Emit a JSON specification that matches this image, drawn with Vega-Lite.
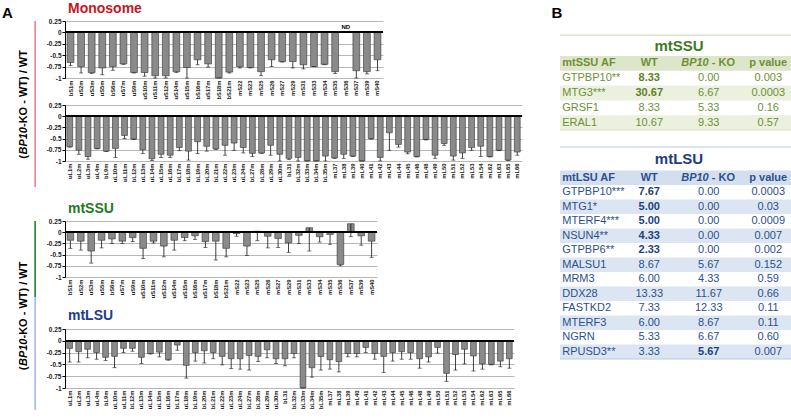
{
"$schema": "https://vega.github.io/schema/vega-lite/v6.json",
"padding": {"left": 2, "top": 2, "right": 0, "bottom": 0},
"config": {"view": {"stroke": null}, "font": "Liberation Sans"},
"datasets": {
"monoSSU": [
{"protein":"bS1m","value":-0.66,"low":-0.73},{"protein":"uS2m","value":-0.75,"low":-0.89},{"protein":"uS3m","value":-0.88,"low":-0.9},{"protein":"uS5m","value":-0.78,"low":-0.93},{"protein":"bS6m","value":-0.75,"low":-0.83},{"protein":"uS7m","value":-0.69,"low":-0.7},{"protein":"uS9m","value":-0.88,"low":-0.89},{"protein":"uS10m","value":-0.88,"low":-0.96},{"protein":"uS11m","value":-0.95,"low":-1.0},{"protein":"uS12m","value":-0.95,"low":-1.0},{"protein":"uS14m","value":-0.86,"low":-0.88},{"protein":"uS15m","value":-0.77,"low":-1.0},{"protein":"bS16m","value":-0.6,"low":-0.71},{"protein":"uS17m","value":-0.69,"low":-0.76},{"protein":"bS18m","value":-1.0,"low":-1.0},{"protein":"bS21m","value":-0.87,"low":-0.89},{"protein":"mS22","value":-0.75,"low":-0.78},{"protein":"mS23","value":-0.77,"low":-0.78},{"protein":"mS25","value":-0.86,"low":-0.95},{"protein":"mS26","value":-0.6,"low":-0.75},{"protein":"mS27","value":-0.64,"low":-0.65},{"protein":"mS29","value":-0.64,"low":-0.78},{"protein":"mS31","value":-0.71,"low":-0.8},{"protein":"mS33","value":-0.75,"low":-0.75},{"protein":"mS34","value":-0.7,"low":-0.71},{"protein":"mS35","value":-0.86,"low":-0.9},{"protein":"mS36","value":null,"low":null},{"protein":"mS37","value":-0.84,"low":-1.0},{"protein":"mS39","value":-0.86,"low":-0.91},{"protein":"mS40","value":-0.6,"low":-0.84}
],
"monoLSU": [
{"protein":"uL1m","value":-0.68,"low":-0.69},{"protein":"uL2m","value":-0.76,"low":-0.85},{"protein":"uL3m","value":-0.9,"low":-0.96},{"protein":"uL4m","value":-0.72,"low":-0.73},{"protein":"bL9m","value":-0.78,"low":-0.79},{"protein":"uL10m","value":-0.72,"low":-0.92},{"protein":"uL11m","value":-0.43,"low":-0.5},{"protein":"bL12m","value":-0.51,"low":-0.52},{"protein":"uL13m","value":-0.75,"low":-0.83},{"protein":"uL14m","value":-0.95,"low":-0.99},{"protein":"uL15m","value":-0.85,"low":-0.92},{"protein":"uL16m","value":-0.87,"low":-0.92},{"protein":"bL17m","value":-0.7,"low":-0.77},{"protein":"uL18m","value":-0.78,"low":-0.98},{"protein":"bL19m","value":-0.57,"low":-0.83},{"protein":"bL20m","value":-0.67,"low":-0.78},{"protein":"bL21m","value":-0.73,"low":-0.74},{"protein":"uL22m","value":-0.65,"low":-0.87},{"protein":"uL23m","value":-0.6,"low":-0.76},{"protein":"uL24m","value":-0.7,"low":-0.82},{"protein":"bL27m","value":-0.83,"low":-0.9},{"protein":"bL28m","value":-0.82,"low":-0.83},{"protein":"uL29m","value":-0.65,"low":-0.87},{"protein":"uL30m","value":-0.85,"low":-1.0},{"protein":"bL31","value":-0.94,"low":-0.97},{"protein":"bL32m","value":-0.92,"low":-1.0},{"protein":"bL33m","value":-1.0,"low":-1.0},{"protein":"bL34m","value":-1.0,"low":-1.0},{"protein":"bL35m","value":-0.89,"low":-1.0},{"protein":"mL37","value":-0.93,"low":-0.94},{"protein":"mL38","value":-0.85,"low":-0.94},{"protein":"mL39","value":-0.89,"low":-0.9},{"protein":"mL40","value":-1.0,"low":-1.0},{"protein":"mL41","value":-0.5,"low":-0.51},{"protein":"mL42","value":-0.92,"low":-1.0},{"protein":"mL43","value":-0.37,"low":-0.76},{"protein":"mL44","value":-0.63,"low":-0.69},{"protein":"mL45","value":-0.8,"low":-0.84},{"protein":"mL46","value":-0.9,"low":-0.91},{"protein":"mL48","value":-0.52,"low":-0.53},{"protein":"mL49","value":-0.87,"low":-0.94},{"protein":"mL50","value":-0.61,"low":-0.65},{"protein":"mL51","value":-0.89,"low":-0.98},{"protein":"mL52","value":-0.82,"low":-0.94},{"protein":"mL53","value":-0.7,"low":-0.76},{"protein":"mL54","value":-0.67,"low":-0.9},{"protein":"mL62","value":-0.9,"low":-0.91},{"protein":"mL63","value":-0.76,"low":-0.77},{"protein":"mL65","value":-0.98,"low":-0.99},{"protein":"mL66","value":-0.8,"low":-0.87}
],
"ssu": [
{"protein":"bS1m","value":-0.18,"low":-0.36},{"protein":"uS2m","value":-0.2,"low":-0.4},{"protein":"uS3m","value":-0.42,"low":-0.69},{"protein":"uS5m","value":-0.18,"low":-0.35},{"protein":"bS6m","value":-0.15,"low":-0.25},{"protein":"uS7m","value":-0.2,"low":-0.25},{"protein":"uS9m","value":-0.12,"low":-0.21},{"protein":"uS10m","value":-0.36,"low":-0.59},{"protein":"uS11m","value":-0.2,"low":-0.24},{"protein":"uS12m","value":-0.31,"low":-0.55},{"protein":"uS14m","value":-0.18,"low":-0.4},{"protein":"uS15m","value":-0.12,"low":-0.19},{"protein":"bS16m","value":-0.08,"low":-0.16},{"protein":"uS17m","value":-0.21,"low":-0.34},{"protein":"bS18m","value":-0.2,"low":-0.62},{"protein":"bS21m","value":-0.36,"low":-0.55},{"protein":"mS22","value":-0.03,"low":-0.09},{"protein":"mS23","value":-0.31,"low":-0.52},{"protein":"mS25","value":0.02,"low":-0.19},{"protein":"mS26","value":-0.09,"low":-0.35},{"protein":"mS27","value":-0.14,"low":-0.34},{"protein":"mS29","value":-0.24,"low":-0.45},{"protein":"mS31","value":-0.07,"low":-0.25},{"protein":"mS33","value":0.1,"low":-0.42},{"protein":"mS34","value":-0.1,"low":-0.22},{"protein":"mS35","value":-0.05,"low":-0.27},{"protein":"mS36","value":-0.72,"low":-0.75},{"protein":"mS37","value":0.19,"low":-0.1},{"protein":"mS39","value":-0.08,"low":-0.29},{"protein":"mS40","value":-0.2,"low":-0.56}
],
"lsu": [
{"protein":"uL1m","value":-0.16,"low":-0.45},{"protein":"uL2m","value":-0.23,"low":-0.45},{"protein":"uL3m","value":-0.18,"low":-0.36},{"protein":"uL4m","value":-0.25,"low":-0.39},{"protein":"bL9m","value":-0.35,"low":-0.42},{"protein":"uL10m","value":-0.33,"low":-0.57},{"protein":"uL11m","value":-0.16,"low":-0.25},{"protein":"bL12m","value":-0.16,"low":-0.22},{"protein":"uL13m","value":-0.35,"low":-0.48},{"protein":"uL14m","value":-0.27,"low":-0.28},{"protein":"uL15m","value":-0.24,"low":-0.34},{"protein":"uL16m","value":-0.4,"low":-0.41},{"protein":"bL17m","value":-0.09,"low":-0.2},{"protein":"uL18m","value":-0.52,"low":-0.79},{"protein":"bL19m","value":-0.25,"low":-0.43},{"protein":"bL20m","value":-0.21,"low":-0.47},{"protein":"bL21m","value":-0.25,"low":-0.38},{"protein":"uL22m","value":-0.33,"low":-0.51},{"protein":"uL23m","value":-0.38,"low":-0.59},{"protein":"uL24m","value":-0.38,"low":-0.6},{"protein":"bL27m","value":-0.31,"low":-0.62},{"protein":"bL28m","value":-0.33,"low":-0.44},{"protein":"uL29m","value":-0.19,"low":-0.36},{"protein":"uL30m","value":-0.38,"low":-0.48},{"protein":"bL31","value":-0.38,"low":-0.53},{"protein":"bL32m","value":-0.27,"low":-0.36},{"protein":"bL33m","value":-1.0,"low":-1.0},{"protein":"bL34m","value":-0.57,"low":-0.77},{"protein":"bL35m","value":-0.33,"low":-0.62},{"protein":"mL37","value":-0.4,"low":-0.6},{"protein":"mL38","value":-0.44,"low":-0.66},{"protein":"mL39","value":-0.27,"low":-0.34},{"protein":"mL40","value":-0.27,"low":-0.34},{"protein":"mL41","value":-0.14,"low":-0.25},{"protein":"mL42","value":-0.27,"low":-0.39},{"protein":"mL43","value":-0.33,"low":-0.67},{"protein":"mL44","value":-0.25,"low":-0.43},{"protein":"mL45","value":-0.23,"low":-0.39},{"protein":"mL46","value":-0.25,"low":-0.39},{"protein":"mL48","value":-0.38,"low":-0.58},{"protein":"mL49","value":-0.34,"low":-0.45},{"protein":"mL50","value":-0.14,"low":-0.26},{"protein":"mL51","value":-0.69,"low":-0.86},{"protein":"mL52","value":-0.29,"low":-0.62},{"protein":"mL53","value":-0.18,"low":-0.49},{"protein":"mL54","value":-0.32,"low":-0.64},{"protein":"mL62","value":-0.49,"low":-0.6},{"protein":"mL63","value":-0.5,"low":-0.51},{"protein":"mL65","value":-0.43,"low":-0.55},{"protein":"mL66","value":-0.38,"low":-0.58}
],
"ssuTable": [
{"factor":"GTPBP10**","WT":8.33,"KO":0.0,"p":"0.003","wtBold":true,"koBold":false},
{"factor":"MTG3***","WT":30.67,"KO":6.67,"p":"0.0003","wtBold":true,"koBold":false},
{"factor":"GRSF1","WT":8.33,"KO":5.33,"p":"0.16","wtBold":false,"koBold":false},
{"factor":"ERAL1","WT":10.67,"KO":9.33,"p":"0.57","wtBold":false,"koBold":false}
],
"lsuTable": [
{"factor":"GTPBP10***","WT":7.67,"KO":0.0,"p":"0.0003","wtBold":true,"koBold":false},
{"factor":"MTG1*","WT":5.0,"KO":0.0,"p":"0.03","wtBold":true,"koBold":false},
{"factor":"MTERF4***","WT":5.0,"KO":0.0,"p":"0.0009","wtBold":true,"koBold":false},
{"factor":"NSUN4**","WT":4.33,"KO":0.0,"p":"0.007","wtBold":true,"koBold":false},
{"factor":"GTPBP6**","WT":2.33,"KO":0.0,"p":"0.002","wtBold":true,"koBold":false},
{"factor":"MALSU1","WT":8.67,"KO":5.67,"p":"0.152","wtBold":false,"koBold":false},
{"factor":"MRM3","WT":6.0,"KO":4.33,"p":"0.59","wtBold":false,"koBold":false},
{"factor":"DDX28","WT":13.33,"KO":11.67,"p":"0.66","wtBold":false,"koBold":false},
{"factor":"FASTKD2","WT":7.33,"KO":12.33,"p":"0.11","wtBold":false,"koBold":false},
{"factor":"MTERF3","WT":6.0,"KO":8.67,"p":"0.11","wtBold":false,"koBold":false},
{"factor":"NGRN","WT":5.33,"KO":6.67,"p":"0.60","wtBold":false,"koBold":false},
{"factor":"RPUSD3**","WT":3.33,"KO":5.67,"p":"0.007","wtBold":false,"koBold":true}
]
},
"align": "each",
"hconcat": [
{
"spacing": 15, "align": "each",
"vconcat": [
{
"spacing": 10, "align": "each",
"hconcat": [
{
"width": 34, "height": 166,
"title": {"text": "A", "anchor": "start", "frame": "bounds", "fontSize": 15, "fontWeight": "bold", "offset": 0, "color": "#000"},
"layer": [
{"data": {"values": [{"section": "Monosome"}]}, "mark": {"type": "bar"},
 "encoding": {"y": {"field": "section", "type": "nominal", "axis": null, "scale": {"paddingInner": 0, "paddingOuter": 0}},
  "x": {"datum": 0.95, "type": "quantitative", "scale": {"domain": [0, 1]}, "axis": null}, "x2": {"datum": 1},
  "color": {"field": "section", "type": "nominal", "scale": {"domain": ["Monosome", "mtSSU", "mtLSU"], "range": ["#ee8b8b", "#2e8b3a", "#a8bce8"]}, "legend": null}}},
{"data": {"values": [{}]}, "mark": {"type": "text", "text": "-KO - WT) / WT", "angle": 270, "align": "left", "baseline": "middle", "dx": -23, "dy": 5, "fontSize": 11, "fontWeight": "bold", "color": "#000"}},
{"data": {"values": [{}]}, "mark": {"type": "text", "text": "BP10", "angle": 270, "align": "right", "baseline": "middle", "dx": -23, "dy": 5, "fontSize": 11, "fontWeight": "bold", "fontStyle": "italic", "color": "#000"}},
{"data": {"values": [{}]}, "mark": {"type": "text", "text": "(", "angle": 270, "align": "right", "baseline": "middle", "dx": -51, "dy": 5, "fontSize": 11, "fontWeight": "bold", "color": "#000"}}
]
},
{
"spacing": 2, "align": "each",
"vconcat": [
{
"width": 318, "height": 57,
"title": {"text": "Monosome", "anchor": "start", "frame": "group", "dx": 3, "offset": 2, "fontSize": 14, "fontWeight": "bold", "color": "#c8161d"},
"data": {"name": "monoSSU"},
"layer": [
{"mark": {"type": "bar", "fill": "#8a8a8a", "stroke": "#333", "strokeWidth": 0.6},
 "encoding": {"x": {"field": "protein", "type": "nominal", "scale": {"domain": ["bS1m","uS2m","uS3m","uS5m","bS6m","uS7m","uS9m","uS10m","uS11m","uS12m","uS14m","uS15m","bS16m","uS17m","bS18m","bS21m","mS22","mS23","mS25","mS26","mS27","mS29","mS31","mS33","mS34","mS35","mS36","mS37","mS39","mS40"], "paddingInner": 0.36, "paddingOuter": 0.2},
  "axis": {"title": null, "labelAngle": -90, "labelFontSize": 5.8, "labelFontWeight": "bold", "labelColor": "#222", "ticks": false, "tickSize": 0, "labelPadding": 2, "domain": false}},
  "y": {"field": "value", "type": "quantitative", "scale": {"domain": [-1, 0.25], "nice": false, "zero": false},
  "axis": {"title": null, "values": [0.25, 0, -0.25, -0.5, -0.75, -1], "tickCount": 12, "labelOverlap": false, "labelExpr": "datum.value + ''", "labelFontSize": 6.5, "labelFontWeight": "bold", "labelColor": "#222", "labelPadding": 1, "tickSize": 3, "tickColor": "#000", "domainColor": "#000", "gridColor": "#b8b8b8", "grid": true}}}},
{"mark": {"type": "rule", "color": "#111", "strokeWidth": 0.8}, "encoding": {"x": {"field": "protein", "type": "nominal"}, "y": {"field": "value", "type": "quantitative"}, "y2": {"field": "low"}}},
{"mark": {"type": "tick", "color": "#111", "thickness": 0.8, "size": 4}, "encoding": {"x": {"field": "protein", "type": "nominal"}, "y": {"field": "low", "type": "quantitative"}}},
{"mark": {"type": "rule", "color": "#000", "strokeWidth": 1.3}, "encoding": {"y": {"datum": 0}}},
{"mark": {"type": "text", "fontSize": 6, "fontWeight": "bold", "baseline": "middle"}, "encoding": {"x": {"field": "protein", "type": "nominal"}, "y": {"datum": 0.12}, "text": {"condition": {"test": "datum.value === null", "value": "ND"}, "value": ""}}}
]
},
{
"width": 457, "height": 56,
"data": {"name": "monoLSU"},
"layer": [
{"mark": {"type": "bar", "fill": "#8a8a8a", "stroke": "#333", "strokeWidth": 0.6},
 "encoding": {"x": {"field": "protein", "type": "nominal", "sort": null, "scale": {"paddingInner": 0.36, "paddingOuter": 0.2},
  "axis": {"title": null, "labelAngle": -90, "labelFontSize": 5.8, "labelFontWeight": "bold", "labelColor": "#222", "ticks": false, "tickSize": 0, "labelPadding": 2, "domain": false}},
  "y": {"field": "value", "type": "quantitative", "scale": {"domain": [-1, 0.25], "nice": false, "zero": false},
  "axis": {"title": null, "values": [0.25, 0, -0.25, -0.5, -0.75, -1], "tickCount": 12, "labelOverlap": false, "labelExpr": "datum.value + ''", "labelFontSize": 6.5, "labelFontWeight": "bold", "labelColor": "#222", "labelPadding": 1, "tickSize": 3, "tickColor": "#000", "domainColor": "#000", "gridColor": "#b8b8b8", "grid": true}}}},
{"mark": {"type": "rule", "color": "#111", "strokeWidth": 0.8}, "encoding": {"x": {"field": "protein", "type": "nominal", "sort": null}, "y": {"field": "value", "type": "quantitative"}, "y2": {"field": "low"}}},
{"mark": {"type": "tick", "color": "#111", "thickness": 0.8, "size": 4}, "encoding": {"x": {"field": "protein", "type": "nominal", "sort": null}, "y": {"field": "low", "type": "quantitative"}}},
{"mark": {"type": "rule", "color": "#000", "strokeWidth": 1.3}, "encoding": {"y": {"datum": 0}}}
]
}
]
}
]
},
{
"spacing": 10, "align": "each",
"hconcat": [
{
"width": 34, "height": 189,
"resolve": {"scale": {"y": "independent"}},
"layer": [
{"data": {"values": [{"section": "mtSSU"}]}, "mark": {"type": "bar"},
 "encoding": {"y": {"field": "section", "type": "nominal", "axis": null, "scale": {"paddingInner": 0, "paddingOuter": 0.743, "align": 0}},
  "x": {"datum": 0.95, "type": "quantitative", "scale": {"domain": [0, 1]}, "axis": null}, "x2": {"datum": 1},
  "color": {"field": "section", "type": "nominal", "scale": {"domain": ["Monosome", "mtSSU", "mtLSU"], "range": ["#ee8b8b", "#2e8b3a", "#a8bce8"]}, "legend": null}}},
{"data": {"values": [{"section": "mtLSU"}]}, "mark": {"type": "bar"},
 "encoding": {"y": {"field": "section", "type": "nominal", "axis": null, "scale": {"paddingInner": 0, "paddingOuter": 0.336, "align": 1}},
  "x": {"datum": 0.95, "type": "quantitative", "scale": {"domain": [0, 1]}, "axis": null}, "x2": {"datum": 1},
  "color": {"field": "section", "type": "nominal", "scale": {"domain": ["Monosome", "mtSSU", "mtLSU"], "range": ["#ee8b8b", "#2e8b3a", "#a8bce8"]}, "legend": null}}},
{"data": {"values": [{}]}, "mark": {"type": "text", "text": "-KO - WT) / WT", "angle": 270, "align": "left", "baseline": "middle", "dx": -23, "dy": 5, "fontSize": 11, "fontWeight": "bold", "color": "#000"}},
{"data": {"values": [{}]}, "mark": {"type": "text", "text": "BP10", "angle": 270, "align": "right", "baseline": "middle", "dx": -23, "dy": 5, "fontSize": 11, "fontWeight": "bold", "fontStyle": "italic", "color": "#000"}},
{"data": {"values": [{}]}, "mark": {"type": "text", "text": "(", "angle": 270, "align": "right", "baseline": "middle", "dx": -51, "dy": 5, "fontSize": 11, "fontWeight": "bold", "color": "#000"}}
]
},
{
"spacing": 10, "align": "each",
"vconcat": [
{
"width": 312, "height": 56,
"title": {"text": "mtSSU", "anchor": "start", "frame": "group", "dx": 3, "offset": 2, "fontSize": 14, "fontWeight": "bold", "color": "#1f7a1f"},
"data": {"name": "ssu"},
"layer": [
{"mark": {"type": "bar", "fill": "#8a8a8a", "stroke": "#333", "strokeWidth": 0.6},
 "encoding": {"x": {"field": "protein", "type": "nominal", "sort": null, "scale": {"paddingInner": 0.36, "paddingOuter": 0.2},
  "axis": {"title": null, "labelAngle": -90, "labelFontSize": 5.8, "labelFontWeight": "bold", "labelColor": "#222", "ticks": false, "tickSize": 0, "labelPadding": 2, "domain": false}},
  "y": {"field": "value", "type": "quantitative", "scale": {"domain": [-1, 0.25], "nice": false, "zero": false},
  "axis": {"title": null, "values": [0.25, 0, -0.25, -0.5, -0.75, -1], "tickCount": 12, "labelOverlap": false, "labelExpr": "datum.value + ''", "labelFontSize": 6.5, "labelFontWeight": "bold", "labelColor": "#222", "labelPadding": 1, "tickSize": 3, "tickColor": "#000", "domainColor": "#000", "gridColor": "#b8b8b8", "grid": true}}}},
{"mark": {"type": "rule", "color": "#111", "strokeWidth": 0.8}, "encoding": {"x": {"field": "protein", "type": "nominal", "sort": null}, "y": {"field": "value", "type": "quantitative"}, "y2": {"field": "low"}}},
{"mark": {"type": "tick", "color": "#111", "thickness": 0.8, "size": 4}, "encoding": {"x": {"field": "protein", "type": "nominal", "sort": null}, "y": {"field": "low", "type": "quantitative"}}},
{"mark": {"type": "rule", "color": "#000", "strokeWidth": 1.3}, "encoding": {"y": {"datum": 0}}}
]
},
{
"width": 449, "height": 59,
"title": {"text": "mtLSU", "anchor": "start", "frame": "group", "dx": 3, "offset": 3, "fontSize": 14, "fontWeight": "bold", "color": "#1c3c8c"},
"data": {"name": "lsu"},
"layer": [
{"mark": {"type": "bar", "fill": "#8a8a8a", "stroke": "#333", "strokeWidth": 0.6},
 "encoding": {"x": {"field": "protein", "type": "nominal", "sort": null, "scale": {"paddingInner": 0.36, "paddingOuter": 0.2},
  "axis": {"title": null, "labelAngle": -90, "labelFontSize": 5.8, "labelFontWeight": "bold", "labelColor": "#222", "ticks": false, "tickSize": 0, "labelPadding": 2, "domain": false}},
  "y": {"field": "value", "type": "quantitative", "scale": {"domain": [-1, 0.25], "nice": false, "zero": false},
  "axis": {"title": null, "values": [0.25, 0, -0.25, -0.5, -0.75, -1], "tickCount": 12, "labelOverlap": false, "labelExpr": "datum.value + ''", "labelFontSize": 6.5, "labelFontWeight": "bold", "labelColor": "#222", "labelPadding": 1, "tickSize": 3, "tickColor": "#000", "domainColor": "#000", "gridColor": "#b8b8b8", "grid": true}}}},
{"mark": {"type": "rule", "color": "#111", "strokeWidth": 0.8}, "encoding": {"x": {"field": "protein", "type": "nominal", "sort": null}, "y": {"field": "value", "type": "quantitative"}, "y2": {"field": "low"}}},
{"mark": {"type": "tick", "color": "#111", "thickness": 0.8, "size": 4}, "encoding": {"x": {"field": "protein", "type": "nominal", "sort": null}, "y": {"field": "low", "type": "quantitative"}}},
{"mark": {"type": "rule", "color": "#000", "strokeWidth": 1.3}, "encoding": {"y": {"datum": 0}}}
]
}
]
}
]
}
]
},
{
"spacing": 15, "align": "each",
"vconcat": [
{
"width": 238, "height": 109,
"title": {"text": "B", "anchor": "start", "frame": "bounds", "fontSize": 15, "fontWeight": "bold", "offset": 0, "dx": -8, "color": "#000"},
"data": {"name": "ssuTable"},
"encoding": {"y": {"field": "factor", "type": "nominal", "scale": {"domain": ["title", "header", "GTPBP10**", "MTG3***", "GRSF1", "ERAL1"], "paddingInner": 0, "paddingOuter": 0.68, "align": 1}, "axis": null}},
"layer": [
{"transform": [{"window": [{"op": "row_number", "as": "i"}]}, {"filter": "datum.i % 2 == 0"}], "mark": {"type": "rect", "fill": "#ebf1de"}},
{"data": {"values": [{}]}, "mark": {"type": "rect", "fill": "#dde6ca"}, "encoding": {"y": {"datum": "header", "type": "nominal"}}},
{"data": {"values": [{}]}, "mark": {"type": "rule", "color": "#d4dfbd", "strokeWidth": 1.2, "yOffset": -6}, "encoding": {"y": {"datum": "title", "type": "nominal", "bandPosition": 0}}},
{"data": {"values": [{}]}, "mark": {"type": "rule", "color": "#d4dfbd", "strokeWidth": 1.2}, "encoding": {"y": {"datum": "ERAL1", "type": "nominal", "bandPosition": 1}}},
{"data": {"values": [{}]}, "mark": {"type": "text", "text": "mtSSU", "fontSize": 15, "fontWeight": "bold", "color": "#3d7a1e", "dy": -3}, "encoding": {"y": {"datum": "title", "type": "nominal"}}},
{"data": {"values": [{}]}, "mark": {"type": "text", "text": "mtSSU AF", "align": "left", "dx": -27.5, "fontSize": 11, "fontWeight": "bold", "color": "#6f8f35"}, "encoding": {"y": {"datum": "header", "type": "nominal"}, "x": {"datum": "AF", "type": "nominal", "scale": {"domain": ["AF", "WT", "KO", "P"], "paddingInner": 0, "paddingOuter": 0}, "axis": null}}},
{"data": {"values": [{}]}, "mark": {"type": "text", "text": "WT", "fontSize": 11, "fontWeight": "bold", "color": "#6f8f35"}, "encoding": {"y": {"datum": "header", "type": "nominal"}, "x": {"datum": "WT", "type": "nominal"}}},
{"data": {"values": [{}]}, "mark": {"type": "text", "text": "BP10", "align": "right", "fontSize": 11, "fontWeight": "bold", "fontStyle": "italic", "color": "#6f8f35"}, "encoding": {"y": {"datum": "header", "type": "nominal"}, "x": {"datum": "KO", "type": "nominal"}}},
{"data": {"values": [{}]}, "mark": {"type": "text", "text": "- KO", "align": "left", "dx": 3, "fontSize": 11, "fontWeight": "bold", "color": "#6f8f35"}, "encoding": {"y": {"datum": "header", "type": "nominal"}, "x": {"datum": "KO", "type": "nominal"}}},
{"data": {"values": [{}]}, "mark": {"type": "text", "text": "p value", "fontSize": 11, "fontWeight": "bold", "color": "#6f8f35"}, "encoding": {"y": {"datum": "header", "type": "nominal"}, "x": {"datum": "P", "type": "nominal"}}},
{"mark": {"type": "text", "align": "left", "dx": -27.5, "fontSize": 11, "color": "#6f8f35"}, "encoding": {"x": {"datum": "AF", "type": "nominal"}, "text": {"field": "factor", "type": "nominal"}}},
{"transform": [{"filter": "!datum.wtBold"}], "mark": {"type": "text", "fontSize": 11, "color": "#6f8f35"}, "encoding": {"x": {"datum": "WT", "type": "nominal"}, "text": {"field": "WT", "type": "quantitative", "format": ".2f"}}},
{"transform": [{"filter": "datum.wtBold"}], "mark": {"type": "text", "fontSize": 11, "fontWeight": "bold", "color": "#5f7f28"}, "encoding": {"x": {"datum": "WT", "type": "nominal"}, "text": {"field": "WT", "type": "quantitative", "format": ".2f"}}},
{"transform": [{"filter": "!datum.koBold"}], "mark": {"type": "text", "fontSize": 11, "color": "#6f8f35"}, "encoding": {"x": {"datum": "KO", "type": "nominal"}, "text": {"field": "KO", "type": "quantitative", "format": ".2f"}}},
{"transform": [{"filter": "datum.koBold"}], "mark": {"type": "text", "fontSize": 11, "fontWeight": "bold", "color": "#5f7f28"}, "encoding": {"x": {"datum": "KO", "type": "nominal"}, "text": {"field": "KO", "type": "quantitative", "format": ".2f"}}},
{"mark": {"type": "text", "fontSize": 11, "color": "#6f8f35"}, "encoding": {"x": {"datum": "P", "type": "nominal"}, "text": {"field": "p", "type": "nominal"}}}
]
},
{
"width": 238, "height": 203,
"data": {"name": "lsuTable"},
"encoding": {"y": {"field": "factor", "type": "nominal", "scale": {"domain": ["title", "header", "GTPBP10***", "MTG1*", "MTERF4***", "NSUN4**", "GTPBP6**", "MALSU1", "MRM3", "DDX28", "FASTKD2", "MTERF3", "NGRN", "RPUSD3**"], "paddingInner": 0, "paddingOuter": 0}, "axis": null}},
"layer": [
{"transform": [{"window": [{"op": "row_number", "as": "i"}]}, {"filter": "datum.i % 2 == 0"}], "mark": {"type": "rect", "fill": "#dce6f2"}},
{"data": {"values": [{}]}, "mark": {"type": "rect", "fill": "#d3dfee"}, "encoding": {"y": {"datum": "header", "type": "nominal"}}},
{"data": {"values": [{}]}, "mark": {"type": "rule", "color": "#b8cce4", "strokeWidth": 1.2, "yOffset": -9}, "encoding": {"y": {"datum": "title", "type": "nominal", "bandPosition": 0}}},
{"data": {"values": [{}]}, "mark": {"type": "rule", "color": "#b8cce4", "strokeWidth": 1.2}, "encoding": {"y": {"datum": "RPUSD3**", "type": "nominal", "bandPosition": 1}}},
{"data": {"values": [{}]}, "mark": {"type": "text", "text": "mtLSU", "fontSize": 15, "fontWeight": "bold", "color": "#1f3c7a", "dy": -4}, "encoding": {"y": {"datum": "title", "type": "nominal"}}},
{"data": {"values": [{}]}, "mark": {"type": "text", "text": "mtLSU AF", "align": "left", "dx": -27.5, "fontSize": 11, "fontWeight": "bold", "color": "#2d4f8e"}, "encoding": {"y": {"datum": "header", "type": "nominal"}, "x": {"datum": "AF", "type": "nominal", "scale": {"domain": ["AF", "WT", "KO", "P"], "paddingInner": 0, "paddingOuter": 0}, "axis": null}}},
{"data": {"values": [{}]}, "mark": {"type": "text", "text": "WT", "fontSize": 11, "fontWeight": "bold", "color": "#2d4f8e"}, "encoding": {"y": {"datum": "header", "type": "nominal"}, "x": {"datum": "WT", "type": "nominal"}}},
{"data": {"values": [{}]}, "mark": {"type": "text", "text": "BP10", "align": "right", "fontSize": 11, "fontWeight": "bold", "fontStyle": "italic", "color": "#2d4f8e"}, "encoding": {"y": {"datum": "header", "type": "nominal"}, "x": {"datum": "KO", "type": "nominal"}}},
{"data": {"values": [{}]}, "mark": {"type": "text", "text": "- KO", "align": "left", "dx": 3, "fontSize": 11, "fontWeight": "bold", "color": "#2d4f8e"}, "encoding": {"y": {"datum": "header", "type": "nominal"}, "x": {"datum": "KO", "type": "nominal"}}},
{"data": {"values": [{}]}, "mark": {"type": "text", "text": "p value", "fontSize": 11, "fontWeight": "bold", "color": "#2d4f8e"}, "encoding": {"y": {"datum": "header", "type": "nominal"}, "x": {"datum": "P", "type": "nominal"}}},
{"mark": {"type": "text", "align": "left", "dx": -27.5, "fontSize": 11, "color": "#2d4f8e"}, "encoding": {"x": {"datum": "AF", "type": "nominal"}, "text": {"field": "factor", "type": "nominal"}}},
{"transform": [{"filter": "!datum.wtBold"}], "mark": {"type": "text", "fontSize": 11, "color": "#2d4f8e"}, "encoding": {"x": {"datum": "WT", "type": "nominal"}, "text": {"field": "WT", "type": "quantitative", "format": ".2f"}}},
{"transform": [{"filter": "datum.wtBold"}], "mark": {"type": "text", "fontSize": 11, "fontWeight": "bold", "color": "#1f3f7f"}, "encoding": {"x": {"datum": "WT", "type": "nominal"}, "text": {"field": "WT", "type": "quantitative", "format": ".2f"}}},
{"transform": [{"filter": "!datum.koBold"}], "mark": {"type": "text", "fontSize": 11, "color": "#2d4f8e"}, "encoding": {"x": {"datum": "KO", "type": "nominal"}, "text": {"field": "KO", "type": "quantitative", "format": ".2f"}}},
{"transform": [{"filter": "datum.koBold"}], "mark": {"type": "text", "fontSize": 11, "fontWeight": "bold", "color": "#1f3f7f"}, "encoding": {"x": {"datum": "KO", "type": "nominal"}, "text": {"field": "KO", "type": "quantitative", "format": ".2f"}}},
{"mark": {"type": "text", "fontSize": 11, "color": "#2d4f8e"}, "encoding": {"x": {"datum": "P", "type": "nominal"}, "text": {"field": "p", "type": "nominal"}}}
]
}
]
}
],
"spacing": 28
}
